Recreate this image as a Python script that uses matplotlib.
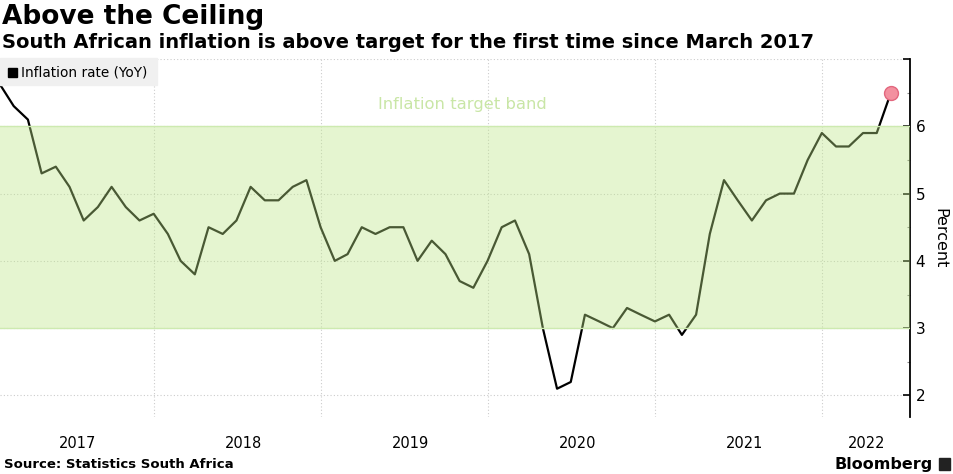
import pandas as pd
import matplotlib.pyplot as plt
import matplotlib.dates as mdates
from matplotlib.patches import Rectangle

# South Africa CPI, year-on-year %, monthly (Dec 2016 - May 2022)
months = pd.date_range("2016-12-01", "2022-05-01", freq="MS") + pd.offsets.MonthEnd(0)
inflation = [
    6.8,
    6.6, 6.3, 6.1, 5.3, 5.4, 5.1, 4.6, 4.8, 5.1, 4.8, 4.6, 4.7,
    4.4, 4.0, 3.8, 4.5, 4.4, 4.6, 5.1, 4.9, 4.9, 5.1, 5.2, 4.5,
    4.0, 4.1, 4.5, 4.4, 4.5, 4.5, 4.0, 4.3, 4.1, 3.7, 3.6, 4.0,
    4.5, 4.6, 4.1, 3.0, 2.1, 2.2, 3.2, 3.1, 3.0, 3.3, 3.2, 3.1,
    3.2, 2.9, 3.2, 4.4, 5.2, 4.9, 4.6, 4.9, 5.0, 5.0, 5.5, 5.9,
    5.7, 5.7, 5.9, 5.9, 6.5,
]
band_low, band_high = 3, 6
years = [2017, 2018, 2019, 2020, 2021, 2022]
y_ticks = [2, 3, 4, 5, 6, 7]

x_min = pd.Timestamp("2017-01-29")
x_max = pd.Timestamp("2022-07-12")

fig = plt.figure(figsize=(9.54, 4.74), dpi=100)
ax = fig.add_axes([0, 0.1203, 0.954, 0.7552])

# line first, band drawn over it (so line looks green inside)
ax.plot(months, inflation, color="black", lw=1.6, zorder=2)
ax.axhspan(band_low, band_high, color="#bee788", alpha=0.39, lw=0, zorder=3)
ax.axhline(band_high, color="#cdeab0", lw=1, zorder=3)
ax.axhline(band_low, color="#cdeab0", lw=1, zorder=3)
ax.plot(months[-1], inflation[-1], "o", ms=10, mfc="#f3909f", mec="#e2677e",
        mew=1, zorder=4)

ax.text(mdates.date2num(pd.Timestamp("2019-11-07")), 6.33, "Inflation target band",
        color="#c9e6a6", fontsize=11.8, ha="center", va="center", zorder=5)

ax.set_xlim(x_min, x_max)
ax.set_ylim(1.68, 7.0)

# gridlines at year starts, labels centred in each year
year_starts = [pd.Timestamp(f"{y}-01-01") for y in years[1:]]
ax.set_xticks(year_starts)
ax.tick_params(axis="x", which="major", length=0, labelbottom=False)
centers = []
for y in years:
    s = pd.Timestamp(f"{y}-01-01")
    e = pd.Timestamp(f"{y + 1}-01-01")
    if s < x_min or e > x_max:
        s, e = max(s, x_min), min(e, x_max)
        centers.append(s + (e - s) / 2)
    else:
        centers.append(s + (e - s) / 2 + pd.Timedelta(days=12))
ax.set_xticks(centers, minor=True)
ax.set_xticklabels([str(y) for y in years], minor=True)
ax.tick_params(axis="x", which="minor", length=0, pad=14, labelsize=10.5)

ax.grid(True, which="major", color="#cccccc", ls=(0, (1, 2)), lw=0.8)
ax.set_axisbelow(True)

ax.yaxis.tick_right()
ax.yaxis.set_label_position("right")
ax.set_yticks(y_ticks)
ax.set_yticklabels(["2", "3", "4", "5", "6", ""])
ax.set_yticks([2.5, 3.5, 4.5, 5.5, 6.5], minor=True)
ax.tick_params(axis="y", which="major", direction="in", length=5, width=1.2,
               labelsize=11, pad=4)
ax.tick_params(axis="y", which="minor", direction="in", length=2, width=0.8,
               color="#888888")
ax.set_ylabel("Percent", fontsize=11.5, rotation=270, labelpad=16)

for side in ["top", "left", "bottom"]:
    ax.spines[side].set_visible(False)
ax.spines["right"].set_linewidth(1.3)

# legend box
fig.patches.append(Rectangle((0, 1 - 85 / 474), 157 / 954, 27 / 474,
                             transform=fig.transFigure, color="#f0f0f0", zorder=10))
fig.patches.append(Rectangle((8 / 954, 1 - 77 / 474), 9 / 954, 9 / 474,
                             transform=fig.transFigure, color="black", zorder=11))
fig.text(21 / 954, 1 - 72 / 474, "Inflation rate (YoY)", fontsize=9.8,
         va="center", zorder=12)

# titles
fig.text(0.002, 1 - 17 / 474, "Above the Ceiling", fontsize=19, fontweight="bold",
         va="center")
fig.text(0.002, 1 - 43 / 474,
         "South African inflation is above target for the first time since March 2017",
         fontsize=14, fontweight="bold", va="center")

fig.text(0.004, 1 - 464 / 474, "Source: Statistics South Africa", fontsize=9.5,
         fontweight="bold", va="center")
fig.text(933 / 954, 1 - 464 / 474, "Bloomberg", fontsize=11.5, fontweight="bold",
         va="center", ha="right")
fig.patches.append(Rectangle((939 / 954, 1 - 470 / 474), 11 / 954, 12 / 474,
                             transform=fig.transFigure, color="#222222"))

fig.savefig("out.png", dpi=100)
